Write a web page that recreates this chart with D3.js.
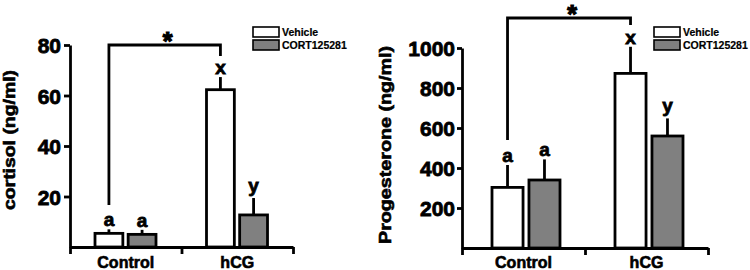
<!DOCTYPE html>
<html>
<head>
<meta charset="utf-8">
<script src="https://cdn.jsdelivr.net/npm/d3@7"></script>
<style>
body { margin: 0; background: #fff; }
svg { display: block; font-family: Arial, "Liberation Sans", sans-serif; font-weight: bold; }
svg text { stroke: #000; stroke-width: 0.6; }
.axis path, .axis line { stroke: #000; stroke-width: 2.8; }
.axis text { font-size: 21px; font-weight: bold; fill: #000; }
</style>
</head>
<body>
<div id="chart"></div>
<script>
// data
const groups = ['Control', 'hCG'];
const series = ['Vehicle', 'CORT125281'];
const seriesFill = ['#ffffff', '#808080'];

const cortisolMean = [[5.4, 5.0], [62.3, 12.7]];   // [group][series]
const cortisolErr  = [[1.6, 1.8], [5.0, 6.7]];
const cortisolLetters = [['a', 'a'], ['x', 'y']];
const cortisolTicks = [20, 40, 60, 80];

const progMean = [[303, 340], [873, 560]];
const progErr  = [[112, 103], [133, 88]];
const progLetters = [['a', 'a'], ['x', 'y']];
const progTicks = [200, 400, 600, 800, 1000];

const W = 750, H = 270;

const svg = d3.select('#chart').append('svg')
	.attr('width', W).attr('height', H);

//panel 1: cortisol
drawPanel({
	label: 'cortisol (ng/ml)', labelLen: 140,
	mean: cortisolMean, err: cortisolErr, letters: cortisolLetters,
	ticks: cortisolTicks, domain: [0, 80],
	x0: 70, x1: 293, yTop: 45, yBot: 247,
	inner: [25, 86], tickSize: 6, tickPad: 3,
	labelX: 15, labelY: 140,
	bracket: {low: 16.6, top: 80, highEnd: 75.6},
	legendX: 253
});

//panel 2: progesterone
drawPanel({
	label: 'Progesterone (ng/ml)', labelLen: 198,
	mean: progMean, err: progErr, letters: progLetters,
	ticks: progTicks, domain: [0, 1000],
	x0: 462, x1: 708, yTop: 48, yBot: 248,
	inner: [30, 98], tickSize: 5, tickPad: 2,
	labelX: 391, labelY: 145,
	bracket: {low: 540, top: 1150, highEnd: 1115},
	legendX: 654
});

function drawPanel(o){
	const scaleY = d3.scaleLinear().domain(o.domain).range([o.yBot, o.yTop]);
	const scaleX = d3.scaleBand().domain(groups).range([o.x0, o.x1]);
	const scaleInner = d3.scaleBand().domain(series).range(o.inner).paddingInner(0.16);
	const edges = d3.scaleLinear().domain([0, groups.length]).range([o.x0, o.x1]);

	const g = svg.append('g');

	//flatten into bars
	const bars = [];
	groups.forEach(function(grp, i){
		series.forEach(function(s, j){
			bars.push({group: grp, series: s, j: j,
				value: o.mean[i][j], err: o.err[i][j], letter: o.letters[i][j]});
		});
	});
	const barX = function(d){ return scaleX(d.group) + scaleInner(d.series) };
	const barC = function(d){ return barX(d) + scaleInner.bandwidth() / 2 };

	//error bars (upper only)
	g.selectAll('.err').data(bars).enter()
		.append('line')
		.attr('x1', barC).attr('x2', barC)
		.attr('y1', function(d){ return scaleY(d.value) })
		.attr('y2', function(d){ return scaleY(d.value + d.err) })
		.style('stroke', '#000').style('stroke-width', 2.8);

	g.selectAll('.bar').data(bars).enter()
		.append('rect')
		.attr('x', barX)
		.attr('y', function(d){ return scaleY(d.value) })
		.attr('width', scaleInner.bandwidth())
		.attr('height', function(d){ return scaleY(0) - scaleY(d.value) })
		.style('fill', function(d){ return seriesFill[d.j] })
		.style('stroke', '#000').style('stroke-width', 2.8);

	//letters
	g.selectAll('.letter').data(bars).enter()
		.append('text')
		.attr('x', barC)
		.attr('y', function(d){ return scaleY(d.value + d.err) - (d.letter === 'y' ? 6 : 3) })
		.attr('text-anchor', 'middle')
		.style('font-size', '19px')
		.style('stroke-width', 0.8)
		.text(function(d){ return d.letter });

	//axes
	const axisY = d3.axisLeft(scaleY).tickValues(o.ticks).tickFormat(d3.format('d'))
		.tickSize(o.tickSize).tickPadding(o.tickPad).tickSizeOuter(0);
	g.append('g').attr('class', 'axis axis-y')
		.attr('transform', `translate(${o.x0},0)`)
		.call(axisY)
		.selectAll('text').attr('dy', '0.36em').style('stroke-width', 0.8);

	const axisX = d3.axisBottom(edges).tickValues(d3.range(groups.length + 1))
		.tickSize(7).tickSizeOuter(0).tickFormat('');
	g.append('g').attr('class', 'axis axis-x')
		.attr('transform', `translate(0,${o.yBot})`)
		.call(axisX);

	g.selectAll('.cat').data(groups).enter()
		.append('text')
		.attr('x', function(d){ return scaleX(d) + scaleX.bandwidth() / 2 })
		.attr('y', 268)
		.attr('text-anchor', 'middle')
		.style('font-size', '16px')
		.text(function(d){ return d });

	g.append('text')
		.attr('transform', `translate(${o.labelX},${o.labelY}) rotate(-90)`)
		.attr('text-anchor', 'middle')
		.attr('textLength', o.labelLen)
		.attr('lengthAdjust', 'spacingAndGlyphs')
		.style('font-size', '16px')
		.text(o.label);

	//significance bracket between the two vehicle bars
	const b0 = barC(bars[0]), b1 = barC(bars[2]);
	const br = [[b0, scaleY(o.bracket.low)], [b0, scaleY(o.bracket.top)],
		[b1, scaleY(o.bracket.top)], [b1, scaleY(o.bracket.highEnd)]];
	g.append('path')
		.attr('d', d3.line()(br))
		.style('fill', 'none').style('stroke', '#000').style('stroke-width', 2.8);
	g.append('text')
		.attr('x', (b0 + b1) / 2 + 3)
		.attr('y', scaleY(o.bracket.top) + 5)
		.attr('text-anchor', 'middle')
		.style('font-size', '25px')
		.style('stroke-width', 1.2)
		.text('*');

	//legend
	const leg = g.selectAll('.leg').data(series).enter()
		.append('g')
		.attr('transform', function(d, i){ return `translate(${o.legendX},${27 + i * 13})` });
	leg.append('rect')
		.attr('width', 26).attr('height', 10)
		.style('fill', function(d, i){ return seriesFill[i] })
		.style('stroke', '#000').style('stroke-width', 1.6);
	leg.append('text')
		.attr('x', 29).attr('y', 9)
		.style('font-size', '10.5px')
		.style('stroke-width', 0.2)
		.text(function(d){ return d });
}
</script>
</body>
</html>
